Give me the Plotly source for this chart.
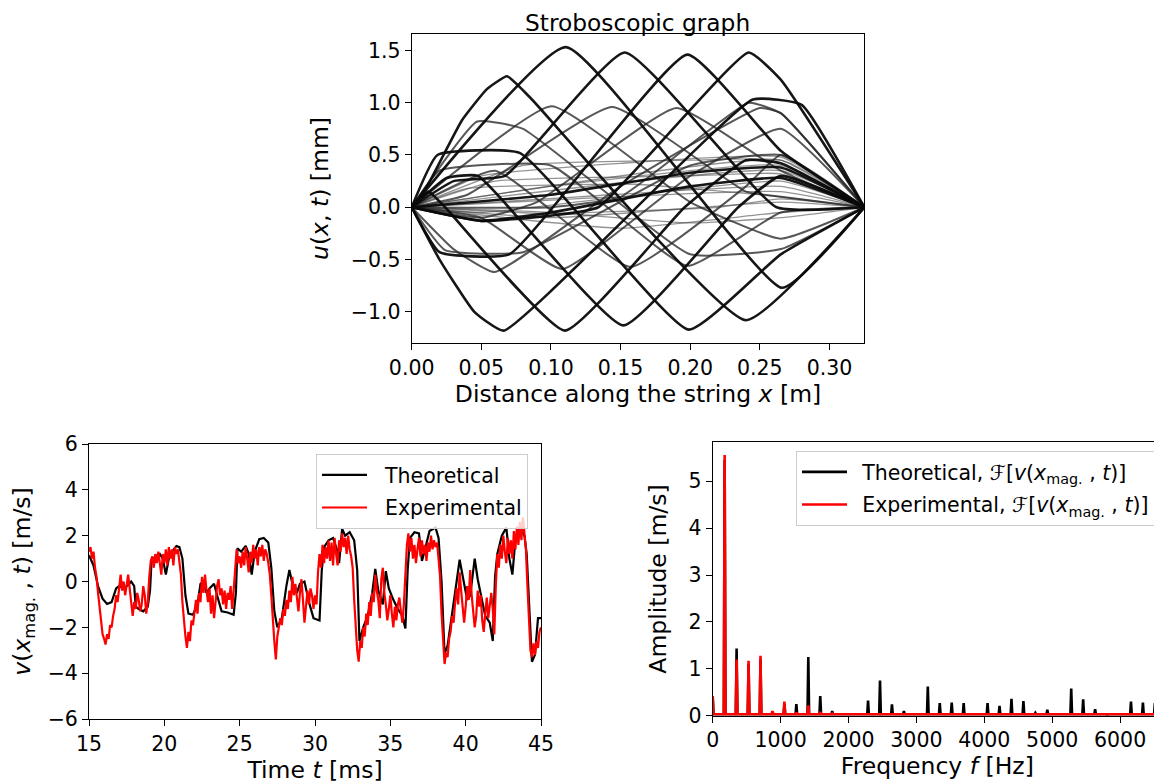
import numpy as np
import plotly.graph_objects as go

FONT = "DejaVu Sans"

# ---------------- Stroboscopic graph (string snapshots) ----------------
# each curve: (x positions [m], displacement [mm])
strob_thick = [
    ([0, .011, .036, .054, .0685, .085, .240, .325], [0, .2, .83, 1.13, 1.253, 1.05, -1.08, 0]),
    ([0, .1108, .266, .325], [0, 1.532, -0.77, 0]),
    ([0, .03, .067, .153, .262, .325], [0, .25, .3, 1.48, .0, 0]),
    ([0, .02, .07, .198, .265, .325], [0, -.43, -.45, 1.46, .54, 0]),
    ([0, .05, .1, .134, .242, .265, .325], [0, -.13, -.08, 0, 1.48, 1.22, 0]),
    ([0, .02, .045, .066, .245, .28, .325], [0, -.5, -1.0, -1.18, 1.03, .98, 0]),
    ([0, .012, .024, .110, .196, .24, .265, .325], [0, .15, 0, -1.18, 0, .45, .42, 0]),
    ([0, .0185, .0775, .199, .265, .325], [0, .5, .52, -1.17, -.45, 0]),
    ([0, .025, .0475, .152, .2345, .265, .325], [0, .28, .3, -1.13, 0, .3, 0]),
    ([0, .05, .1, .2, .265, .325], [0, -.13, -.05, .2, .28, 0]),
    ([0, .1, .2, .265, .325], [0, .12, .33, .38, 0]),
]
strob_medium = [
    ([0, .047, .08, .2, .265, .325], [0, .82, .75, -.45, -.4, 0]),
    ([0, .1005, .2, .265, .325], [0, .965, .05, -.3, 0]),
    ([0, .04, .144, .24, .265, .325], [0, .12, .958, .15, .1, 0]),
    ([0, .05, .09, .19, .265, .325], [0, -.1, .05, .95, .35, 0]),
    ([0, .1, .15, .242, .265, .325], [0, .0, .1, 1.0, .9, 0]),
    ([0, .03, .0595, .15, .25, .265, .325], [0, -.4, -.62, .2, .95, .9, 0]),
    ([0, .05, .108, .2, .265, .325], [0, -.1, -.59, .3, .75, 0]),
    ([0, .06, .157, .24, .265, .325], [0, .35, -.57, .2, .5, 0]),
    ([0, .02, .1, .198, .265, .325], [0, .35, .4, -.56, -.05, 0]),
    ([0, .024, .08, .2, .265, .325], [0, -.41, -.43, .4, .5, 0]),
]
strob_thin = [
    ([0, .265, .325], [0, .45, 0]),
    ([0, .265, .325], [0, .35, 0]),
    ([0, .1, .265, .325], [0, .2, .4, 0]),
    ([0, .05, .265, .325], [0, -.05, .25, 0]),
    ([0, .265, .325], [0, .15, 0]),
    ([0, .1, .265, .325], [0, -.1, .05, 0]),
    ([0, .08, .2, .265, .325], [0, .4, .45, .45, 0]),
    ([0, .05, .15, .265, .325], [0, .3, .42, .48, 0]),
    ([0, .1, .2, .265, .325], [0, -.05, -.15, -.1, 0]),
    ([0, .15, .265, .325], [0, -.2, -.05, 0]),
    ([0, .06, .2, .265, .325], [0, .25, .3, .32, 0]),
    ([0, .12, .265, .325], [0, .1, .2, 0]),
    ([0, .04, .16, .265, .325], [0, .18, .22, .1, 0]),
    ([0, .1, .22, .265, .325], [0, -.06, .0, .08, 0]),
]

# ---------------- Time series ----------------
theo_t = [15.0, 15.3, 15.6, 15.9, 16.2, 16.5, 16.8, 17.0, 17.3, 17.6, 17.8, 18.0, 18.1, 18.3, 18.6, 18.9,
          19.05, 19.15, 19.4, 19.7, 19.9, 20.1, 20.3, 20.5, 20.8, 21.0, 21.2, 21.4, 21.6, 21.9, 22.2,
          22.4, 22.6, 22.8, 23.0, 23.3, 23.5, 23.8, 24.2, 24.6, 24.75, 24.85, 25.1, 25.4, 25.6, 25.8,
          26.0, 26.3, 26.6, 26.9, 27.1, 27.3, 27.5, 27.8, 28.1, 28.3, 28.5, 28.8, 29.0, 29.3, 29.6,
          29.9, 30.3, 30.45, 30.6, 30.9, 31.2, 31.5, 31.6, 31.8, 32.0, 32.3, 32.6, 32.8, 32.95, 33.2,
          33.5, 33.8, 34.0, 34.2, 34.5, 34.7, 34.9, 35.2, 35.5, 35.8, 36.0, 36.15, 36.3, 36.6, 36.9,
          37.1, 37.3, 37.6, 38.0, 38.2, 38.4, 38.6, 38.8, 39.1, 39.4, 39.6, 39.8, 40.1, 40.3, 40.6,
          40.8, 41.0, 41.3, 41.6, 41.8, 41.95, 42.1, 42.4, 42.7, 42.9, 43.1, 43.3, 43.6, 43.9, 44.05,
          44.25, 44.4, 44.6, 44.8, 45.0]
theo_v = [1.15, 0.7, -0.2, -0.75, -0.98, -0.9, -0.3, -0.2, -0.3, -0.15, 0.0, -0.2, -1.1, -1.2, -1.3, -1.1,
          -0.4, 0.9, 1.1, 1.2, 1.0, 0.3, 1.0, 1.3, 1.55, 1.5, 1.0, -0.6, -1.4, -1.45, -1.0,
          -0.1, 0.0, -0.5, -0.3, -0.1, -0.6, -1.3, -1.35, -1.45, -0.5, 1.45, 1.3, 1.55, 1.2, 0.3,
          1.3, 1.85, 1.9, 1.7, 0.6, -1.3, -2.0, -1.6, -0.2, 0.5, -0.1, -0.5, -0.1, 0.0, -0.9,
          -1.6, -1.7, 0.5, 1.5, 1.8, 1.9, 1.3, 0.8, 2.3, 2.0, 2.15, 1.8, 0.5, -2.6, -2.0,
          -1.5, -0.5, 0.55, -0.4, -1.0, 0.45, -0.3, -0.8, -1.2, -1.5, -2.05, 0.5, 1.9, 2.15, 2.1,
          0.9, 1.4, 2.2, 2.35, 1.9, 0.0, -3.15, -2.8, -1.5, 0.0, 0.95, 0.2, -0.8, -0.6, 1.0,
          0.1, -0.5, -1.5, -1.8, -2.6, 0.2, 1.2, 2.0, 2.35, 1.0, 0.3, 1.8, 2.4, 2.0, 1.2,
          -1.5, -3.5, -3.2, -1.6, -1.6]

exp_t0, exp_dt = 15.0, 0.1
exp_v = [1.3, 1.5, 1.0, 1.3, 0.6, 0.2,
         -0.5, -1.2, -1.8, -2.3, -2.5, -2.75,
         -2.3, -2.5, -1.9, -2.0, -1.5, -1.2, -0.6, -0.9,
         -0.3, 0.3, -0.4, 0.0, -0.6, -0.2, 0.3, -0.3, -0.8, -1.5,
         -0.9, -1.2, -0.5, -0.8, -1.3, -1.0, -0.2, -0.6, -1.4, -0.9,
         0.2, 0.9, 1.1, 0.6, 1.2, 0.8, 1.3, 0.9, 0.3, 1.2,
         0.8, 1.4, 0.7, 1.5, 1.0, 1.4, 0.7, 1.5, 1.2, 1.4,
         0.9, 0.3, -0.9, -1.8, -2.4, -2.9, -2.2, -2.6, -1.7, -1.9,
         -1.3, -0.8, -1.4, -0.5, -0.9, 0.2, -0.5, 0.3, -0.4, -0.9,
         -0.3, -1.4, -0.6, -1.6, -0.9, -0.2, 0.1, -0.6, -0.3, -1.0,
         -0.4, -1.2, -0.5, -0.8, -0.2, -1.2, -0.4, 0.6, 1.4, 0.8,
         1.1, 0.6, 1.3, 0.7, 1.5, 1.0, 0.4, 1.3, 0.8, 1.6,
         1.0, 1.4, 0.7, 1.5, 1.1, 1.6, 0.9, 1.4, 1.2, 0.8,
         0.3, -0.6, -1.8, -2.6, -3.4, -2.4, -2.0, -1.6, -1.9, -1.2,
         -1.5, -0.8, -1.2, -0.4, -0.9, 0.2, -0.6, -0.1, -0.7, -1.3,
         -0.5, 0.1, -0.8, -1.8, -1.1, -0.4, -1.0, -0.3, -0.6, -1.2,
         -0.6, -1.0, 0.4, 1.2, 0.6, 1.6, 0.8, 1.5, 1.0, 1.8,
         0.9, 1.7, 0.7, 1.9, 1.2, 0.7, 1.8, 1.3, 2.1, 1.5,
         1.9, 1.2, 2.0, 1.4, 1.1, 0.6, -0.8, -2.2, -3.0, -3.5,
         -2.6, -2.9, -2.0, -2.4, -1.4, -1.9, -0.9, -1.5, -0.5, -0.9,
         0.3, -0.4, -0.8, -1.6, 0.1, 0.6, -0.5, -1.0, -1.7, -1.2,
         -0.6, -1.4, -2.0, -1.1, -1.7, -1.0, -0.7, -1.3, -1.8, -1.0,
         0.4, 1.6, 2.1, 1.3, 1.9, 1.0, 1.6, 0.8, 1.4, 1.9,
         1.1, 1.8, 1.2, 1.6, 0.9, 1.7, 1.3, 2.0, 1.4, 1.8,
         1.5, 1.7, 1.0, 0.2, -1.4, -2.8, -3.6, -3.1, -3.3, -2.5,
         -2.2, -1.5, -1.8, -0.9, -0.3, -1.0, 0.4, -0.4, -1.2, -1.8,
         -1.1, -0.2, -0.8, 0.5, -0.6, -1.3, -2.0, -1.5, -0.4, -1.1,
         -0.6, -1.7, -2.2, -1.4, -0.7, -1.6, -0.9, -0.5, -1.2, -2.3,
         -0.2, 1.2, 0.6, 1.6, 1.0, 2.0, 1.3, 0.8, 1.9, 1.2,
         1.8, 1.0, 2.2, 1.4, 2.4, 1.6, 2.6, 1.8, 2.8, 2.0,
         1.4, -0.2, -1.8, -3.0, -3.3, -2.7, -3.2, -2.6, -2.9, -2.2,
         -2.0]
exp_t = [exp_t0 + i * exp_dt for i in range(len(exp_v))]

# ---------------- Spectrum ----------------
harm_f = [0, 176, 352, 528, 704, 880, 1056, 1232, 1408, 1584, 1760, 1936, 2112, 2288, 2464, 2640,
          2816, 2992, 3168, 3344, 3520, 3696, 3872, 4048, 4224, 4400, 4576, 4752, 4928, 5104, 5280,
          5456, 5632, 5808, 5984, 6160, 6336, 6512]
theo_amp = [0.40, 5.45, 1.43, 1.10, 1.20, 0.08, 0.25, 0.25, 1.25, 0.42, 0.10, 0.03, 0.04, 0.32, 0.75, 0.24,
            0.10, 0.03, 0.62, 0.27, 0.28, 0.27, 0.03, 0.27, 0.21, 0.36, 0.31, 0.06, 0.13, 0.04, 0.58,
            0.35, 0.14, 0.02, 0.03, 0.30, 0.28, 0.27]
exp_amp = [0.42, 5.56, 1.20, 1.17, 1.28, 0.10, 0.30, 0.07, 0.22, 0.08, 0.05, 0.03, 0.03, 0.04, 0.04, 0.03,
           0.03, 0.03, 0.04, 0.03, 0.03, 0.03, 0.03, 0.03, 0.03, 0.03, 0.03, 0.03, 0.03, 0.03, 0.03,
           0.03, 0.03, 0.03, 0.03, 0.03, 0.03, 0.03]
base_level = 0.03


def spike_line(freqs, amps, base, half=12):
    xs, ys = [], []
    for f, a in zip(freqs, amps):
        if f == 0:
            xs += [0, half]
            ys += [a, base]
        else:
            xs += [f - half, f, f + half]
            ys += [base, a, base]
    xs.append(6700)
    ys.append(base)
    return xs, ys


# page is shown with the browser's default 8px body margin: figure is 1154x776 at (8, 8)
W, H, OFF = 1154, 776, 8


def fx(px):
    return (px - OFF) / W


def fy(py):
    return 1 - (py - OFF) / H


fig = go.Figure()

for group, color, width in [(strob_thin, "rgba(60,60,60,0.55)", 1.3),
                            (strob_medium, "rgba(40,40,40,0.78)", 2.0),
                            (strob_thick, "rgba(10,10,10,0.95)", 2.6)]:
    for xs, ys in group:
        fig.add_trace(go.Scatter(x=xs, y=ys, mode="lines", showlegend=False,
                                 line=dict(color=color, width=width, shape="spline", smoothing=0.4),
                                 xaxis="x", yaxis="y", hoverinfo="skip"))

GAP1 = "\u00a0\u00a0"
GAP2 = "\u2002"
fig.add_trace(go.Scatter(x=theo_t, y=theo_v, mode="lines", name=GAP1 + "Theoretical",
                         line=dict(color="black", width=2.2), xaxis="x2", yaxis="y2",
                         legend="legend", legendgroup="a"))
fig.add_trace(go.Scatter(x=exp_t, y=exp_v, mode="lines", name=GAP1 + "Experimental",
                         line=dict(color="red", width=2.2), xaxis="x2", yaxis="y2",
                         legend="legend", legendgroup="b"))

sx, sy = spike_line(harm_f, theo_amp, base_level)
fig.add_trace(go.Scatter(x=sx, y=sy, mode="lines",
                         name=GAP2 + "Theoretical, <i>ℱ</i>[<i>v</i>(<i>x</i><sub>mag.</sub> , <i>t</i>)]",
                         line=dict(color="black", width=2.6), xaxis="x3", yaxis="y3",
                         legend="legend2", legendgroup="c"))
sx, sy = spike_line(harm_f, exp_amp, base_level)
fig.add_trace(go.Scatter(x=sx, y=sy, mode="lines",
                         name=GAP2 + "Experimental, <i>ℱ</i>[<i>v</i>(<i>x</i><sub>mag.</sub> , <i>t</i>)]",
                         line=dict(color="red", width=2.6), xaxis="x3", yaxis="y3",
                         legend="legend2", legendgroup="d"))

TICKF = dict(family=FONT, size=20.5, color="black")
TITLEF = dict(family=FONT, size=23.5, color="black")
common = dict(showgrid=False, zeroline=False, showline=True, linecolor="black", linewidth=1,
              mirror=True, ticks="outside", ticklen=6, tickwidth=1, tickcolor="black",
              tickfont=TICKF, automargin=False)
XSTAND = 4

fig.update_layout(
    width=W, height=H,
    margin=dict(l=0, r=0, t=0, b=0, autoexpand=False),
    paper_bgcolor="white", plot_bgcolor="white",
    font=dict(family=FONT, color="black"),
    xaxis=dict(domain=[fx(411.7), fx(864.3)], range=[0, 0.325], dtick=0.05, tickformat=".2f",
               title=dict(text="Distance along the string <i>x</i> [m]", font=TITLEF, standoff=XSTAND),
               anchor="y", **common),
    yaxis=dict(domain=[fy(343.3), fy(33.7)], range=[-1.301, 1.660], dtick=0.5, tickformat=".1f",
               title=dict(text="<i>u</i>(<i>x</i>, <i>t</i>) [mm]", font=TITLEF),
               anchor="x", **common),
    xaxis2=dict(domain=[fx(89), fx(541)], range=[15, 45], dtick=5,
                title=dict(text="Time <i>t</i> [ms]", font=TITLEF, standoff=XSTAND),
                anchor="y2", **common),
    yaxis2=dict(domain=[fy(719), fy(444)], range=[-6, 6], dtick=2,
                title=dict(text="<i>v</i>(<i>x</i><sub>mag.</sub> , <i>t</i>) [m/s]", font=TITLEF),
                anchor="x2", **common),
    xaxis3=dict(domain=[fx(712.7), 1.0], range=[0, 6617], dtick=1000,
                title=dict(text="Frequency <i>f</i> [Hz]", font=TITLEF, standoff=XSTAND),
                anchor="y3", **common),
    yaxis3=dict(domain=[fy(715.7), fy(442.3)], range=[0, 5.83], dtick=1,
                title=dict(text="Amplitude [m/s]", font=TITLEF),
                anchor="x3", **common),
    legend=dict(x=fx(316), y=fy(454), xanchor="left", yanchor="top",
                bgcolor="rgba(255,255,255,0.8)", bordercolor="#cccccc", borderwidth=1,
                font=dict(family=FONT, size=20.5, color="black"), tracegroupgap=3,
                itemwidth=45),
    legend2=dict(x=fx(796), y=fy(451), xanchor="left", yanchor="top",
                 bgcolor="rgba(255,255,255,0.8)", bordercolor="#cccccc", borderwidth=1,
                 font=dict(family=FONT, size=20.5, color="black"), tracegroupgap=3,
                 itemwidth=45),
    annotations=[dict(text="Stroboscopic graph", x=fx(638), y=1.0, xref="paper", yref="paper",
                      xanchor="center", yanchor="top", showarrow=False, borderpad=0,
                      font=dict(family=FONT, size=23.3, color="black"))],
)

fig.write_html("out.html")
